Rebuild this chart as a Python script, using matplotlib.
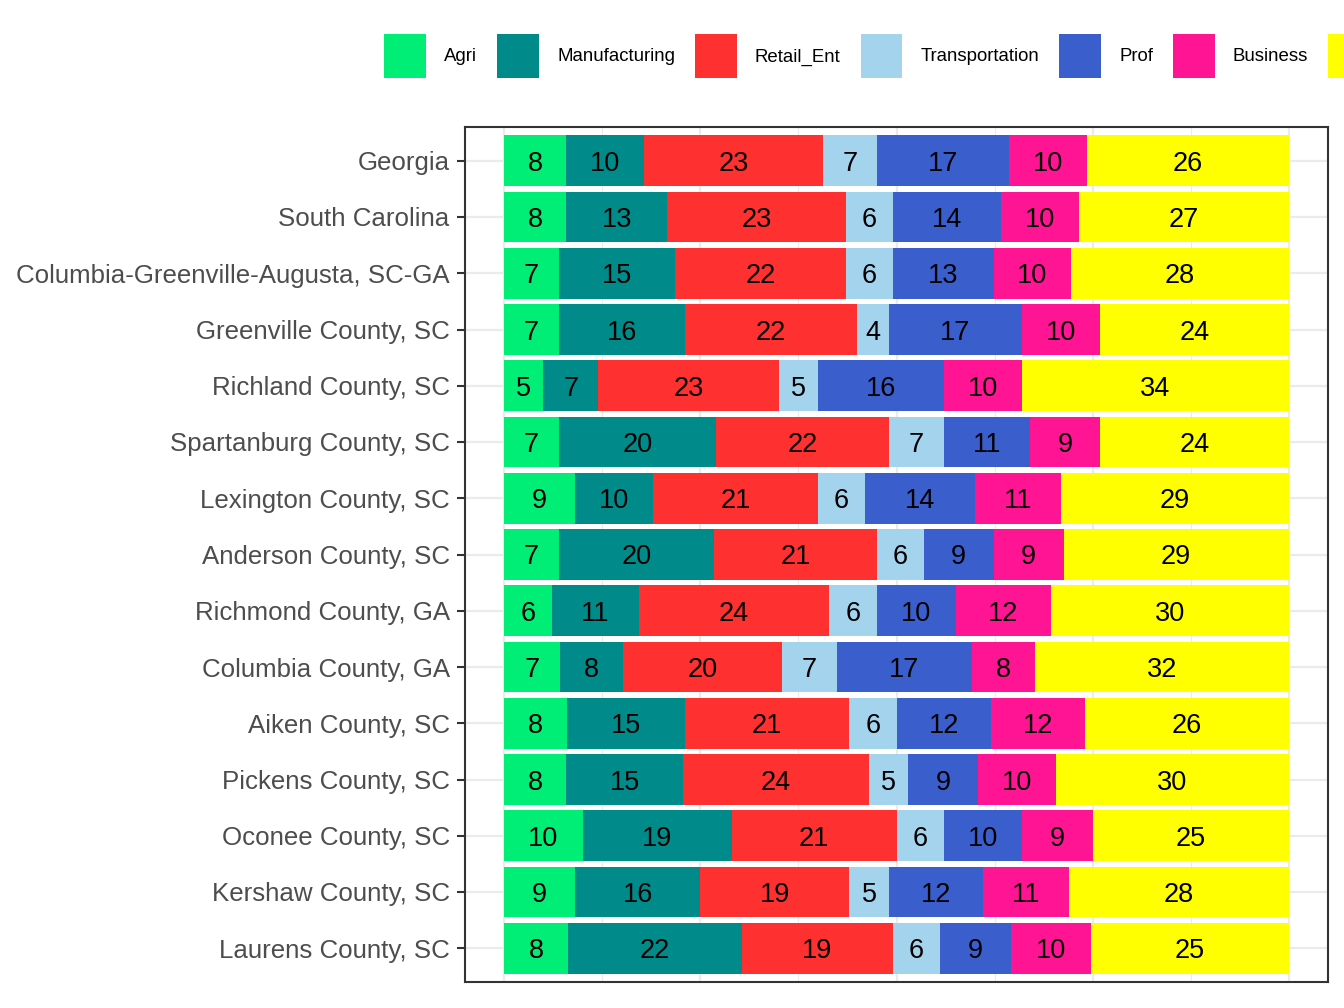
import numpy as np
import matplotlib
matplotlib.use('Agg')
import matplotlib.pyplot as plt
from matplotlib.patches import Patch

plt.rcParams['font.family'] = ['Liberation Sans', 'DejaVu Sans']

regions = ['Georgia', 'South Carolina', 'Columbia-Greenville-Augusta, SC-GA',
           'Greenville County, SC', 'Richland County, SC', 'Spartanburg County, SC',
           'Lexington County, SC', 'Anderson County, SC', 'Richmond County, GA',
           'Columbia County, GA', 'Aiken County, SC', 'Pickens County, SC',
           'Oconee County, SC', 'Kershaw County, SC', 'Laurens County, SC']

sectors = ['Agri', 'Manufacturing', 'Retail_Ent', 'Transportation', 'Prof', 'Business', 'Other']
colors = ['#00EE76', '#008B8B', '#FF3030', '#A4D3EE', '#3A5FCD', '#FF1493', '#FFFF00']

agri = [8, 8, 7, 7, 5, 7, 9, 7, 6, 7, 8, 8, 10, 9, 8]
manufacturing = [10, 13, 15, 16, 7, 20, 10, 20, 11, 8, 15, 15, 19, 16, 22]
retail_ent = [23, 23, 22, 22, 23, 22, 21, 21, 24, 20, 21, 24, 21, 19, 19]
transportation = [7, 6, 6, 4, 5, 7, 6, 6, 6, 7, 6, 5, 6, 5, 6]
prof = [17, 14, 13, 17, 16, 11, 14, 9, 10, 17, 12, 9, 10, 12, 9]
business = [10, 10, 10, 10, 10, 9, 11, 9, 12, 8, 12, 10, 9, 11, 10]
other = [26, 27, 28, 24, 34, 24, 29, 29, 30, 32, 26, 30, 25, 28, 25]

vals = np.array([agri, manufacturing, retail_ent, transportation, prof, business, other], dtype=float)
shares = vals / vals.sum(axis=0)

fig = plt.figure(figsize=(13.44, 10.08), dpi=100)
ax = fig.add_axes([465/1344, 1-982/1008, (1328-465)/1344, (982-127)/1008])

ypos = np.arange(len(regions))[::-1]
left = np.zeros(len(regions))
for k in range(len(sectors)):
    bars = ax.barh(ypos, shares[k], left=left, height=0.9, color=colors[k], zorder=2)
    for b, v in zip(bars, vals[k]):
        ax.text(b.get_x() + b.get_width()/2, b.get_y() + b.get_height()/2, '%d' % v,
                ha='center', va='center_baseline', fontsize=19.5, color='black', zorder=3)
    left += shares[k]

ax.set_xlim(-0.05, 1.05)
ax.set_ylim(-0.6, len(regions) - 0.4)
ax.set_yticks(ypos)
ax.set_yticklabels(regions, fontsize=18.6, color='#4D4D4D')
ax.set_xticks([0, 0.25, 0.5, 0.75, 1.0])
ax.set_xticks([0.125, 0.375, 0.625, 0.875], minor=True)
ax.tick_params(axis='x', which='both', length=0, labelbottom=False)
ax.tick_params(axis='y', length=6, width=1.5, color='#333333', pad=5)
ax.grid(axis='x', which='major', color='#EBEBEB', linewidth=1.6, zorder=0)
ax.grid(axis='x', which='minor', color='#EBEBEB', linewidth=0.8, zorder=0)
ax.grid(axis='y', which='major', color='#EBEBEB', linewidth=1.6, zorder=0)
ax.set_axisbelow(True)
for s in ax.spines.values():
    s.set_color('#333333')
    s.set_linewidth(1.5)

handles = [Patch(facecolor=c, edgecolor='none') for c in colors]
fig.legend(handles, sectors, loc='center left', bbox_to_anchor=(375/1344, 1-56/1008),
           ncol=7, frameon=False, fontsize=13.4, borderpad=0, handlelength=2.25,
           handleheight=3.25, handletextpad=0.97, columnspacing=1.07)

fig.savefig('out.png', dpi=100)
